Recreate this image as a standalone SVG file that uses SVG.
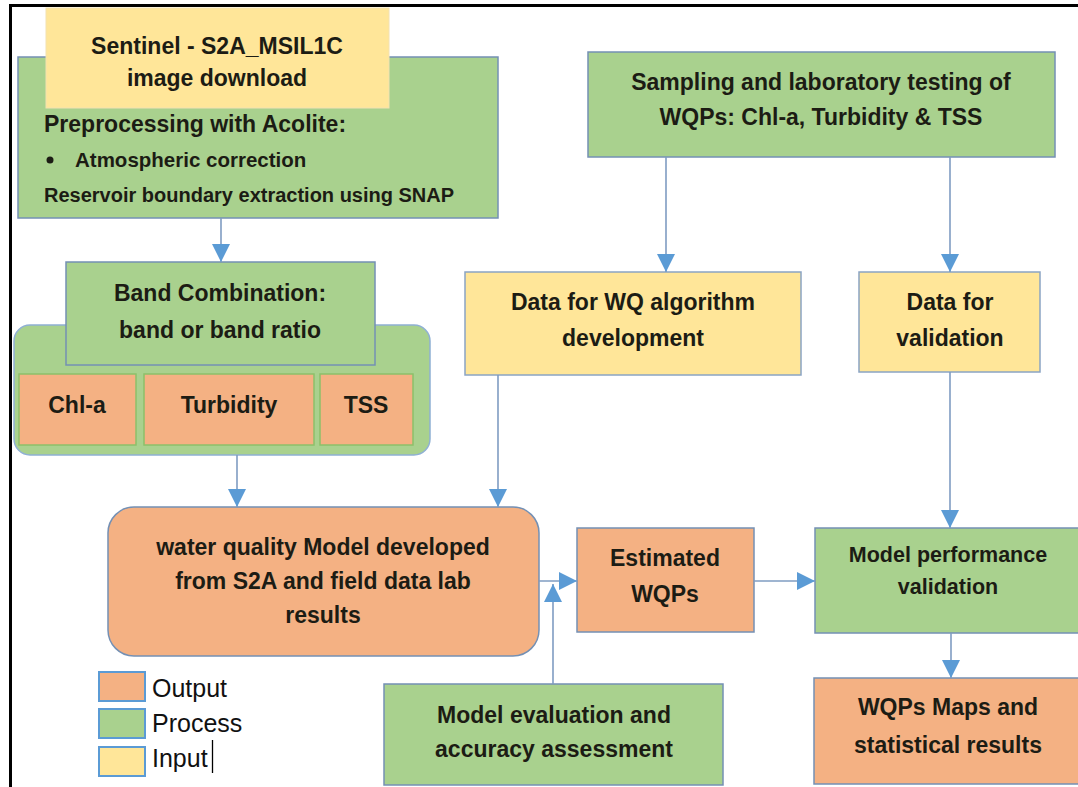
<svg xmlns="http://www.w3.org/2000/svg" width="1078" height="787" viewBox="0 0 1078 787">
<style>
.t{font-family:"Liberation Sans",Arial,sans-serif;font-weight:bold;font-size:23px;fill:#1c1c14;text-anchor:middle}
.tl{text-anchor:start}
.lg{font-family:"Liberation Sans",Arial,sans-serif;font-size:25px;fill:#111}
.g{fill:#A9D18E;stroke:#7490b4;stroke-width:1.5}
.o{fill:#F4B183;stroke:#7490b4;stroke-width:1.5}
.y{fill:#FFE699;stroke:#8aa4c4;stroke-width:1.5}
.og{fill:#F4B183;stroke:#8cc06a;stroke-width:1.5}
.c{fill:none;stroke:#7f9cc2;stroke-width:1.6}
.lsq{stroke:#5B9BD5;stroke-width:2}
</style>
<defs>
<marker id="ah" markerUnits="userSpaceOnUse" markerWidth="18" markerHeight="18" refX="18" refY="9" orient="auto">
<path d="M0,0 L18,9 L0,18 z" fill="#5B9BD5"/>
</marker>
</defs>
<rect width="1078" height="787" fill="#ffffff"/>
<g id="frame" stroke="#000" stroke-width="3" fill="none">
<line x1="10.5" y1="4" x2="10.5" y2="787"/>
<line x1="9" y1="5.5" x2="1078" y2="5.5"/>
</g>

<g id="preprocessing">
<rect class="g" x="18" y="57" width="480" height="161"/>
<text class="t tl" x="44" y="132">Preprocessing with Acolite:</text>
<circle cx="50" cy="160" r="3.5" fill="#1c1c14"/>
<text class="t tl" x="75" y="167" style="font-size:20.5px">Atmospheric correction</text>
<text class="t tl" x="44" y="202" style="font-size:20px">Reservoir boundary extraction using SNAP</text>
</g>
<g id="sentinel">
<rect x="46" y="8" width="343" height="100" fill="#FFE699" stroke="#f3e2b0" stroke-width="1"/>
<text class="t" x="217" y="54">Sentinel - S2A_MSIL1C</text>
<text class="t" x="217" y="86">image download</text>
</g>

<g id="sampling">
<rect class="g" x="588" y="52" width="467" height="105"/>
<text class="t" x="821" y="90">Sampling and laboratory testing of</text>
<text class="t" x="821" y="125">WQPs: Chl-a, Turbidity &amp; TSS</text>
</g>

<g id="band-group">
<rect x="14" y="325" width="416" height="130" rx="16" fill="#A9D18E" stroke="#8fb0d4" stroke-width="1.5"/>
</g>
<g id="band">
<rect class="g" x="66" y="262" width="309" height="103"/>
<text class="t" x="220" y="301">Band Combination:</text>
<text class="t" x="220" y="338">band or band ratio</text>
</g>
<g id="chla">
<rect class="og" x="19" y="374" width="117" height="71"/>
<text class="t" x="77" y="413">Chl-a</text>
</g>
<g id="turbidity">
<rect class="og" x="144" y="374" width="170" height="71"/>
<text class="t" x="229" y="413">Turbidity</text>
</g>
<g id="tss">
<rect class="og" x="320" y="374" width="93" height="71"/>
<text class="t" x="366" y="413">TSS</text>
</g>

<g id="data-wq">
<rect class="y" x="465" y="272" width="336" height="103"/>
<text class="t" x="633" y="310">Data for WQ algorithm</text>
<text class="t" x="633" y="346">development</text>
</g>
<g id="data-validation">
<rect class="y" x="859" y="272" width="181" height="100"/>
<text class="t" x="950" y="310">Data for</text>
<text class="t" x="950" y="346">validation</text>
</g>

<g id="model">
<rect class="o" x="108" y="507" width="431" height="149" rx="26"/>
<text class="t" x="323" y="555">water quality Model developed</text>
<text class="t" x="323" y="589">from S2A and field data lab</text>
<text class="t" x="323" y="623">results</text>
</g>
<g id="estimated">
<rect class="o" x="577" y="528" width="177" height="104"/>
<text class="t" x="665" y="566">Estimated</text>
<text class="t" x="665" y="602">WQPs</text>
</g>
<g id="performance">
<rect class="g" x="815" y="528" width="268" height="105"/>
<text class="t" x="948" y="562" style="font-size:21.5px">Model performance</text>
<text class="t" x="948" y="594" style="font-size:21.5px">validation</text>
</g>
<g id="evaluation">
<rect class="g" x="384" y="684" width="339" height="101"/>
<text class="t" x="554" y="723">Model evaluation and</text>
<text class="t" x="554" y="757">accuracy  assessment</text>
</g>
<g id="maps">
<rect class="o" x="814" y="678" width="269" height="106"/>
<text class="t" x="948" y="715">WQPs Maps and</text>
<text class="t" x="948" y="753">statistical results</text>
</g>

<g id="legend">
<rect class="lsq" x="99" y="672" width="46" height="29" fill="#F4B183"/>
<rect class="lsq" x="99" y="709" width="46" height="29" fill="#A9D18E"/>
<rect class="lsq" x="99" y="747" width="46" height="29" fill="#FFE699"/>
<text class="lg" x="152" y="697">Output</text>
<text class="lg" x="152" y="732">Process</text>
<text class="lg" x="152" y="767">Input</text>
<line x1="212.5" y1="740" x2="212.5" y2="773" stroke="#000" stroke-width="1.3"/>
</g>

<g id="connectors" class="c">
<line class="c" x1="221" y1="218" x2="221" y2="262" marker-end="url(#ah)"/>
<line class="c" x1="666" y1="157" x2="666" y2="272" marker-end="url(#ah)"/>
<line class="c" x1="950" y1="157" x2="950" y2="272" marker-end="url(#ah)"/>
<line class="c" x1="237" y1="455" x2="237" y2="507" marker-end="url(#ah)"/>
<line class="c" x1="498" y1="375" x2="498" y2="507" marker-end="url(#ah)"/>
<line class="c" x1="539" y1="581" x2="577" y2="581" marker-end="url(#ah)"/>
<line class="c" x1="553" y1="684" x2="553" y2="584" marker-end="url(#ah)"/>
<line class="c" x1="754" y1="581" x2="815" y2="581" marker-end="url(#ah)"/>
<line class="c" x1="950" y1="372" x2="950" y2="528" marker-end="url(#ah)"/>
<line class="c" x1="951" y1="633" x2="951" y2="678" marker-end="url(#ah)"/>
</g>
</svg>
